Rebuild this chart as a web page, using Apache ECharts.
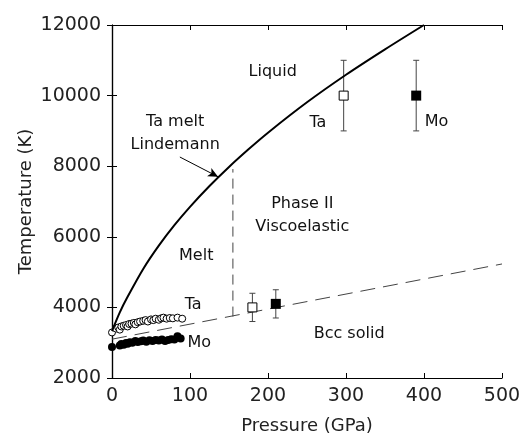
<!DOCTYPE html>
<html>
<head>
    <title>Ta / Mo phase diagram</title>
    <script src="https://cdn.jsdelivr.net/npm/echarts@6/dist/echarts.min.js"></script>
    <style>
        body { margin: 0; background: #fff; }
    </style>
</head>
<body>
    <div id="chart" style="width: 524px; height: 434px;"></div>
    <script>
        // values
        var meltP = [0, 10, 20, 40, 60, 80, 100, 125, 150, 175, 200, 250, 300, 350, 400];
        var meltT = [3330, 3860, 4300, 5090, 5750, 6330, 6850, 7440, 7980, 8480, 8950, 9810, 10590, 11310, 12000];

        var bccP = [0, 500];
        var bccT = [3100, 5230];

        var splitP = [155, 155];
        var splitT = [3740, 7920];

        var taSmallP = [0, 5, 8, 10, 12, 15, 18, 20, 22, 25, 28, 30, 33, 36, 40, 43, 46, 50, 53, 56, 60, 63, 66, 70, 74, 78, 84, 90];
        var taSmallT = [3290, 3400, 3430, 3370, 3460, 3480, 3500, 3460, 3530, 3540, 3560, 3520, 3580, 3600, 3620, 3640, 3600, 3660, 3640, 3680, 3650, 3690, 3710, 3680, 3700, 3690, 3710, 3680];

        var moSmallP = [0, 10, 12, 15, 18, 20, 23, 26, 30, 33, 37, 40, 44, 48, 52, 56, 60, 64, 68, 72, 76, 80, 84, 88];
        var moSmallT = [2880, 2920, 2960, 2940, 2990, 2970, 3010, 3000, 3050, 3020, 3040, 3060, 3030, 3070, 3050, 3080, 3060, 3090, 3050, 3080, 3100, 3090, 3180, 3120];

        var taBigP = [180, 297];
        var taBigT = [4000, 10000];
        var taBigLo = [3600, 9000];
        var taBigHi = [4400, 11000];

        var moBigP = [210, 390];
        var moBigT = [4100, 10000];
        var moBigLo = [3700, 9000];
        var moBigHi = [4500, 11000];

        var notes = [
            { text: 'Liquid', at: [206, 10670] },
            { text: 'Ta melt\nLindemann', at: [81, 8930] },
            { text: 'Melt', at: [108, 5460] },
            { text: 'Phase II\nViscoelastic', at: [244, 6600] },
            { text: 'Ta', at: [104, 4070] },
            { text: 'Mo', at: [112, 2990] },
            { text: 'Ta', at: [264, 9220] },
            { text: 'Mo', at: [416, 9250] },
            { text: 'Bcc solid', at: [304, 3250] }
        ];

        function pairs(xs, ys) {
            return xs.map(function (x, i) { return [x, ys[i]]; });
        }

        function bars(xs, lo, hi) {
            return xs.map(function (x, i) { return [x, lo[i], hi[i]]; });
        }

        function renderErr(params, api) {
            var a = api.coord([api.value(0), api.value(1)]);
            var b = api.coord([api.value(0), api.value(2)]);
            var w = 3;
            var st = { stroke: '#444', lineWidth: 1 };
            return {
                type: 'group',
                children: [
                    { type: 'line', shape: { x1: a[0], y1: a[1], x2: b[0], y2: b[1] }, style: st },
                    { type: 'line', shape: { x1: a[0] - w, y1: a[1], x2: a[0] + w, y2: a[1] }, style: st },
                    { type: 'line', shape: { x1: b[0] - w, y1: b[1], x2: b[0] + w, y2: b[1] }, style: st }
                ]
            };
        }

        var font = 'DejaVu Sans';
        var axisLine = { lineStyle: { color: '#000', width: 1.2 } };
        var tick = { inside: true, length: 5, lineStyle: { color: '#000' } };
        var plain = function (v) { return String(v); };

        var chart = echarts.init(document.querySelector('#chart'));

        var option = {
            animation: false,
            backgroundColor: '#fff',
            grid: { left: 112, right: 22, top: 25, bottom: 56, containLabel: false, outerBoundsMode: 'none' },
            xAxis: [{
                type: 'value', min: 0, max: 500, interval: 100,
                name: 'Pressure (GPa)', nameLocation: 'middle', nameGap: 30, nameMoveOverlap: false,
                nameTextStyle: { fontFamily: font, fontSize: 18, color: '#222' },
                axisLine: axisLine, axisTick: tick, splitLine: { show: false },
                axisLabel: { fontFamily: font, fontSize: 19, color: '#222', margin: -1, formatter: plain }
            }, {
                type: 'value', min: 0, max: 500, interval: 100, position: 'top',
                axisLine: axisLine, axisTick: tick, splitLine: { show: false },
                axisLabel: { show: false }
            }],
            yAxis: [{
                type: 'value', min: 2000, max: 12000, interval: 2000,
                name: 'Temperature (K)', nameLocation: 'middle', nameGap: 68, nameMoveOverlap: false,
                nameTextStyle: { fontFamily: font, fontSize: 18, color: '#222' },
                axisLine: axisLine, axisTick: tick, splitLine: { show: false },
                axisLabel: { fontFamily: font, fontSize: 19, color: '#222', margin: 11, formatter: plain }
            }, {
                type: 'value', min: 2000, max: 12000, interval: 2000, position: 'right',
                axisLine: axisLine, axisTick: tick, splitLine: { show: false },
                axisLabel: { show: false }
            }],
            series: [
                {
                    name: 'melt', type: 'line', data: pairs(meltP, meltT), smooth: 0.3,
                    showSymbol: false, lineStyle: { color: '#000', width: 2 },
                    markLine: {
                        silent: true, symbol: ['none', 'arrow'], symbolSize: [7, 10],
                        label: { show: false },
                        lineStyle: { color: '#000', width: 1, type: 'solid' },
                        data: [[{ coord: [87, 8260] }, { coord: [136, 7700] }]]
                    }
                },
                {
                    name: 'bcc', type: 'line', data: pairs(bccP, bccT), showSymbol: false,
                    lineStyle: { color: '#444', width: 1, type: [15, 8] }
                },
                {
                    name: 'split', type: 'line', data: pairs(splitP, splitT), showSymbol: false,
                    lineStyle: { color: '#444', width: 1, type: [10, 6] }
                },
                {
                    name: 'Ta low', type: 'scatter', data: pairs(taSmallP, taSmallT),
                    symbol: 'circle', symbolSize: 7,
                    itemStyle: { color: '#fff', borderColor: '#000', borderWidth: 1, opacity: 1 }
                },
                {
                    name: 'Mo low', type: 'scatter', data: pairs(moSmallP, moSmallT),
                    symbol: 'circle', symbolSize: 8, itemStyle: { color: '#000', opacity: 1 }
                },
                {
                    name: 'Ta err', type: 'custom', renderItem: renderErr,
                    encode: { x: 0, y: [1, 2] }, data: bars(taBigP, taBigLo, taBigHi), z: 3
                },
                {
                    name: 'Mo err', type: 'custom', renderItem: renderErr,
                    encode: { x: 0, y: [1, 2] }, data: bars(moBigP, moBigLo, moBigHi), z: 3
                },
                {
                    name: 'Ta high', type: 'scatter', data: pairs(taBigP, taBigT), z: 4,
                    symbol: 'rect', symbolSize: 9,
                    itemStyle: { color: '#fff', borderColor: '#000', borderWidth: 1, opacity: 1 }
                },
                {
                    name: 'Mo high', type: 'scatter', data: pairs(moBigP, moBigT), z: 4,
                    symbol: 'rect', symbolSize: 10, itemStyle: { color: '#000', opacity: 1 }
                },
                {
                    name: 'notes', type: 'scatter', symbolSize: 0, silent: true,
                    itemStyle: { opacity: 1 },
                    data: notes.map(function (n) { return { name: n.text, value: n.at }; }),
                    label: {
                        show: true, position: 'inside', formatter: '{b}', textBorderWidth: 0,
                        fontFamily: font, fontSize: 16, lineHeight: 23, color: '#111', align: 'center'
                    }
                }
            ]
        };
        chart.setOption(option);
    </script>
</body>
</html>
